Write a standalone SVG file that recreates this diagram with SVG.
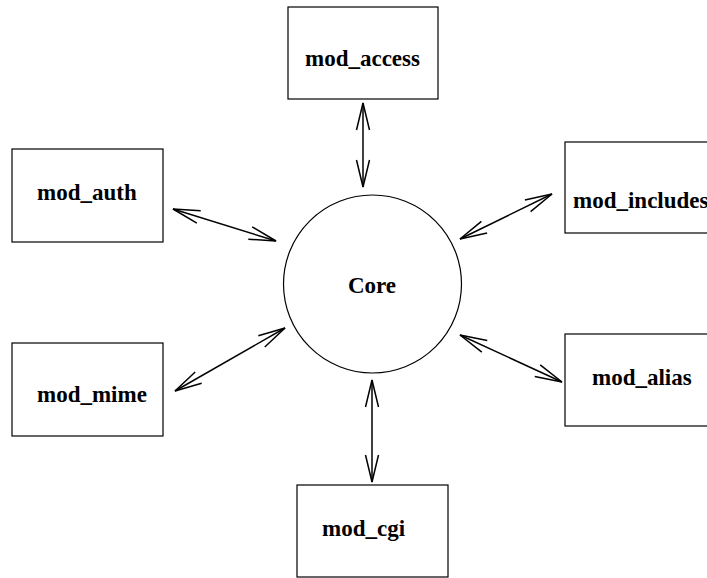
<svg xmlns="http://www.w3.org/2000/svg" width="707" height="578" viewBox="0 0 707 578">
  <style>
    .box { fill: #ffffff; stroke: #000000; stroke-width: 1.2; }
    .label { font-family: "Liberation Serif", "Times New Roman", serif; font-weight: bold; font-size: 23px; fill: #000000; }
    .link { stroke: #000000; stroke-width: 1.5; fill: none; marker-start: url(#head); marker-end: url(#head); }
  </style>
  <defs>
    <!-- open V arrowhead, used at both ends of every link -->
    <marker id="head" markerUnits="userSpaceOnUse" markerWidth="32" markerHeight="18" viewBox="-30 -9 32 18" refX="0" refY="0" orient="auto-start-reverse">
      <path d="M -27 -6.5 L 0 0 L -27 6.5" fill="none" stroke="#000000" stroke-width="1.5"/>
    </marker>
  </defs>
  <rect width="707" height="578" fill="#ffffff"/>

  <g id="connectors">
    <line class="link" x1="363" y1="103" x2="363" y2="187"/>
    <line class="link" x1="173" y1="209" x2="276" y2="241"/>
    <line class="link" x1="460" y1="239" x2="552" y2="194"/>
    <line class="link" x1="175" y1="391" x2="285" y2="328"/>
    <line class="link" x1="460" y1="335" x2="562" y2="382"/>
    <line class="link" x1="372" y1="380" x2="372" y2="482"/>
  </g>

  <g id="core">
    <circle cx="372.5" cy="284" r="89" fill="#ffffff" stroke="#000000" stroke-width="1.2"/>
    <text class="label" x="372" y="293" text-anchor="middle">Core</text>
  </g>

  <g id="mod_access">
    <rect class="box" x="288" y="7" width="150" height="92"/>
    <text class="label" x="305" y="66">mod_access</text>
  </g>

  <g id="mod_auth">
    <rect class="box" x="12" y="149" width="151" height="93"/>
    <text class="label" x="37" y="200">mod_auth</text>
  </g>

  <g id="mod_includes">
    <rect class="box" x="565" y="142" width="151" height="91"/>
    <text class="label" x="573" y="208">mod_includes</text>
  </g>

  <g id="mod_mime">
    <rect class="box" x="12" y="343" width="151" height="93"/>
    <text class="label" x="37" y="402">mod_mime</text>
  </g>

  <g id="mod_alias">
    <rect class="box" x="565" y="334" width="151" height="92"/>
    <text class="label" x="592" y="385">mod_alias</text>
  </g>

  <g id="mod_cgi">
    <rect class="box" x="297" y="485" width="151" height="92"/>
    <text class="label" x="322" y="536">mod_cgi</text>
  </g>
</svg>
